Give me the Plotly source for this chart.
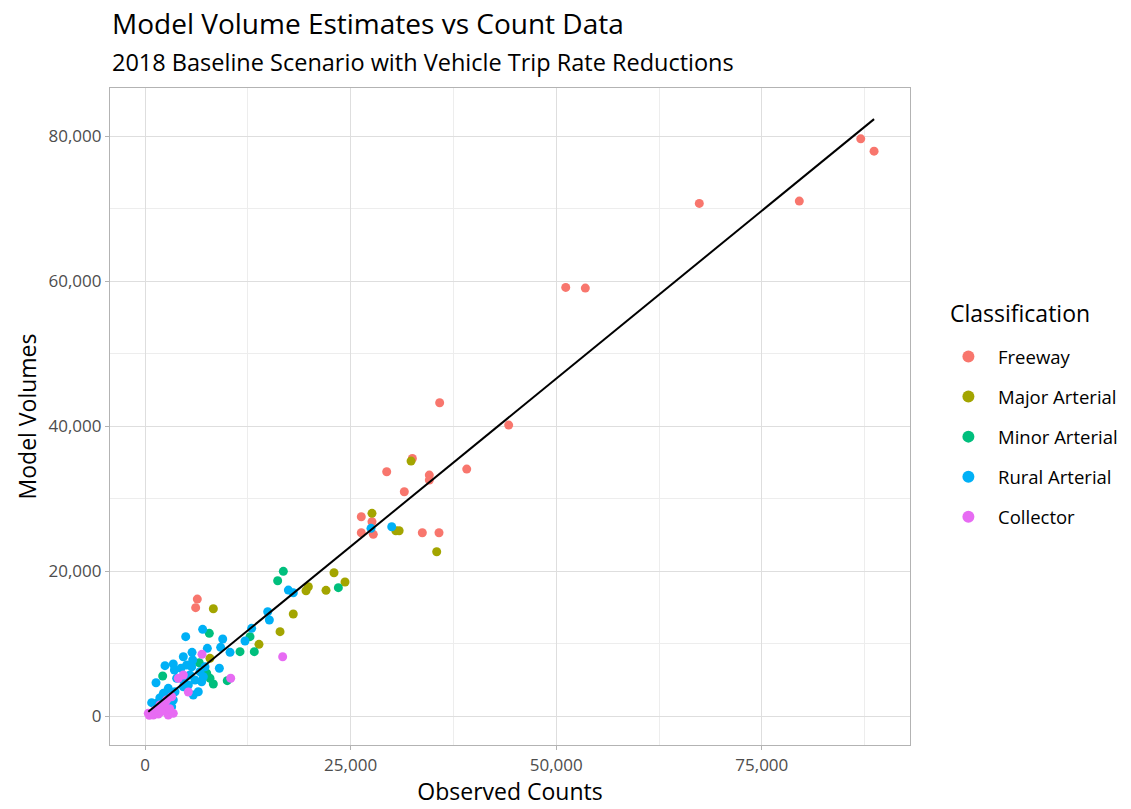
import plotly.graph_objects as go

# ---------------- data ----------------
freeway_x = [87030, 88650, 79560, 67400, 51160, 53540, 44220, 35830, 32510, 29390,
             34570, 34570, 39120, 31530, 26300, 27600, 26300, 27760, 33720, 35750,
             6360, 6160]
freeway_y = [79610, 77910, 71020, 70700, 59120, 59020, 40130, 43210, 35530, 33690,
             33230, 32540, 34060, 30930, 27480, 26790, 25280, 25060, 25280, 25280,
             16130, 14940]

major_x = [32350, 27600, 30500, 30900, 35470, 19860, 19580, 22980, 24320, 22010,
           18030, 16420, 13860, 8310, 7900]
major_y = [35160, 27950, 25550, 25550, 22660, 17830, 17280, 19760, 18480, 17330,
           14070, 11630, 9880, 14800, 7950]

minor_x = [16820, 16130, 23510, 12770, 11550, 13290, 7820, 6600, 10000, 2150,
           7900, 8310, 7500]
minor_y = [19950, 18660, 17700, 10940, 8870, 8870, 11400, 7350, 4870, 5520,
           5200, 4410, 5890]

rural_x = [27480, 30000, 17430, 18030, 14920, 15120, 12970, 12160, 10340, 4950,
           7010, 9450, 9200, 7580, 5720, 4660, 9040, 5800, 3440, 2430,
           3570, 1340, 4380, 5070, 5680, 6690, 7300, 3850, 4660, 2830,
           3650, 2230, 3440, 2830, 1420, 810, 3240, 5870, 6480, 7090,
           6890, 5470, 6080, 4660, 5270, 1800, 2600]
rural_y = [25880, 26100, 17370, 17000, 14380, 13240, 12090, 10340, 8780, 10940,
           11950, 10620, 9470, 9330, 8780, 8180, 6580, 7720, 7170, 6940,
           6340, 4590, 6580, 7030, 6800, 6110, 6800, 5200, 4960, 3820,
           3350, 3130, 2210, 1750, 1750, 1840, 1280, 2900, 3350, 5420,
           4730, 5650, 4960, 4040, 4270, 2500, 2900]

collector_x = [16740, 6930, 10420, 5270, 400, 520, 1010, 1620, 2830, 3440,
               2230, 1820, 2630, 3240, 2430, 4050, 4660, 1200, 2000, 3000]
collector_y = [8180, 8510, 5200, 3310, 370, 100, 140, 280, 140, 370,
               1060, 1520, 2210, 2660, 1280, 5200, 5650, 800, 600, 1000]

fit_x = [400, 88650]
fit_y = [590, 82330]

x_ticks = [0, 25000, 50000, 75000]
x_tick_labels = ["0", "25,000", "50,000", "75,000"]
y_ticks = [0, 20000, 40000, 60000, 80000]
y_tick_labels = ["0", "20,000", "40,000", "60,000", "80,000"]

series = [
    ("Freeway", freeway_x, freeway_y, "#F8766D"),
    ("Major Arterial", major_x, major_y, "#A3A500"),
    ("Minor Arterial", minor_x, minor_y, "#00BF7D"),
    ("Rural Arterial", rural_x, rural_y, "#00B0F6"),
    ("Collector", collector_x, collector_y, "#E76BF3"),
]

FONT = "Open Sans"
NB = "\u00a0\u00a0"

fig = go.Figure()
for name, xs, ys, col in series:
    fig.add_trace(go.Scatter(
        x=xs, y=ys, mode="markers", name=NB + name, legendgroup=name,
        marker=dict(color=col, size=9, line=dict(width=0)),
    ))

fig.add_trace(go.Scatter(
    x=fit_x, y=fit_y, mode="lines", showlegend=False,
    line=dict(color="black", width=2),
))

fig.update_layout(
    width=1131, height=809,
    margin=dict(l=102, r=229, t=80, b=72),
    paper_bgcolor="white", plot_bgcolor="white",
    font=dict(family=FONT, color="black"),
    title=dict(text="Model Volume Estimates vs Count Data",
               x=104 / 1131, xanchor="left", xref="container",
               y=1 - 16 / 809, yanchor="middle", yref="container",
               font=dict(size=28, color="black", family=FONT)),
    showlegend=True,
    legend=dict(
        font=dict(size=18.5, color="black"),
        x=1.048, xanchor="left", y=(745 - 437) / 657, yanchor="middle",
        tracegroupgap=13, itemsizing="constant",
        bgcolor="rgba(0,0,0,0)",
    ),
    annotations=[
        dict(text="2018 Baseline Scenario with Vehicle Trip Rate Reductions",
             xref="paper", yref="paper",
             x=0.0, y=(745 - 62) / 657, xanchor="left", yanchor="middle",
             showarrow=False, font=dict(size=23.5, color="black", family=FONT)),
        dict(text="Classification", xref="paper", yref="paper",
             x=(948 - 110) / 800, y=(745 - 313) / 657, xanchor="left", yanchor="middle",
             showarrow=False, font=dict(size=23, color="black", family=FONT)),
    ],
)

fig.update_xaxes(
    range=[-4256, 93019],
    tickvals=x_ticks, ticktext=x_tick_labels,
    tickfont=dict(size=17, color="#4D4D4D"),
    ticks="outside", ticklen=4, tickcolor="#B3B3B3",
    showgrid=True, gridcolor="#DEDEDE", gridwidth=1,
    minor=dict(tickvals=[12500, 37500, 62500, 87500], showgrid=True,
               gridcolor="#EDEDED", gridwidth=0.6, ticks=""),
    showline=True, linecolor="#B3B3B3", linewidth=1.2, mirror=True,
    zeroline=False,
    title=dict(text="Observed Counts", font=dict(size=23, color="black"), standoff=8),
)
fig.update_yaxes(
    range=[-4000, 86621],
    tickvals=y_ticks, ticktext=y_tick_labels,
    tickfont=dict(size=17, color="#4D4D4D"),
    ticks="outside", ticklen=4, tickcolor="#B3B3B3",
    showgrid=True, gridcolor="#DEDEDE", gridwidth=1,
    minor=dict(tickvals=[10000, 30000, 50000, 70000], showgrid=True,
               gridcolor="#EDEDED", gridwidth=0.6, ticks=""),
    showline=True, linecolor="#B3B3B3", linewidth=1.2, mirror=True,
    zeroline=False,
    title=dict(text="Model Volumes", font=dict(size=23, color="black"), standoff=5),
)

fig.write_html("out.html")
